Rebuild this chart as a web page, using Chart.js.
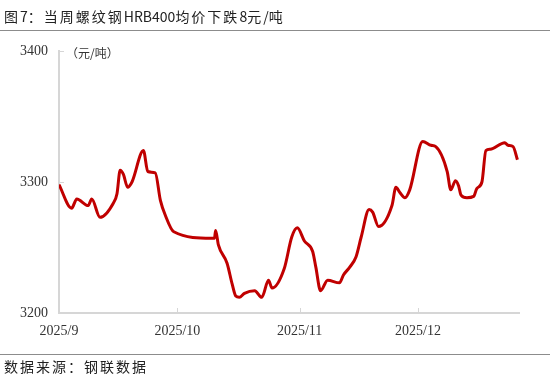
<!DOCTYPE html>
<html><head><meta charset="utf-8">
<script src="https://cdn.jsdelivr.net/npm/chart.js@4.4.1/dist/chart.umd.min.js"></script>
<style>
html,body{margin:0;padding:0;background:#fff;}
body{width:550px;height:381px;position:relative;overflow:hidden;font-family:"Noto Sans CJK SC",sans-serif;}
#title{position:absolute;left:4px;top:6px;font-size:14px;letter-spacing:2px;color:#222;line-height:20px;white-space:nowrap;}
#title span{letter-spacing:0;}
#topline{position:absolute;left:0;top:30px;width:550px;height:1px;background:#8c8c8c;}
#botline{position:absolute;left:0;top:354px;width:550px;height:1px;background:#8c8c8c;}
#source{position:absolute;left:4px;top:356px;font-size:14px;letter-spacing:2px;color:#222;line-height:20px;white-space:nowrap;}
#wrap{position:absolute;left:0;top:0;width:550px;height:381px;}
</style></head>
<body>
<div id="wrap"><canvas id="c" width="550" height="381"></canvas></div>
<div id="title">图<span>7</span>：当周螺纹钢<span>HRB400</span>均价下跌<span>8</span>元<span>/</span>吨</div>
<div id="topline"></div>
<div id="botline"></div>
<div id="source">数据来源：钢联数据</div>
<script>
// days since 2025-09-01
const days = [0,3.2,4.5,7.4,8.3,10.4,13.8,14.7,15.5,16.3,17.4,18.5,21.4,22.5,24.4,25.7,26.9,29.1,38.7,39.4,39.7,40.4,42.6,43.9,44.8,45.7,47.0,49.6,51.4,53.1,54.0,57.1,59.0,60.4,62.2,64.3,65.1,66.3,68.1,71.1,72.1,73.7,75.3,76.6,78.6,79.5,81.0,84.4,85.4,86.4,87.7,88.9,92.2,94.3,95.5,98.4,99.3,100.5,101.3,101.9,103.4,105.1,105.9,107.2,108.2,109.3,113.0,113.8,115.1,116.2];
const prices = [3298,3280,3287,3282,3287,3273,3284,3291,3309,3306,3296,3300,3324,3308,3307,3286,3275,3262,3257,3257,3263,3252,3238,3222,3213,3212,3215,3217,3212,3225,3219,3234,3258,3265,3255,3247,3235,3217,3225,3223,3229,3235,3243,3258,3279,3277,3266,3282,3296,3292,3288,3294,3331,3328,3327,3308,3294,3301,3297,3290,3288,3289,3295,3300,3324,3325,3330,3328,3327,3317];
const tickDays = [0,30,61,91];
const tickLabels = ['2025/9','2025/10','2025/11','2025/12'];
const yTicks = [3200,3300,3400];
const unitLabel = '（元/吨）';

const axisColor = '#d6d6d6';
const tickFont = {family:'"Liberation Serif", serif', size:14};

const innerTicks = {
  id:'innerTicks',
  afterDraw(chart){
    const {ctx, chartArea:a, scales:{x,y}} = chart;
    ctx.save();
    ctx.strokeStyle = axisColor; ctx.lineWidth = 1;
    tickDays.forEach(v=>{ if(v===0) return; const px = Math.round(x.getPixelForValue(v))+0.5;
      ctx.beginPath(); ctx.moveTo(px,a.bottom); ctx.lineTo(px,a.bottom-5); ctx.stroke(); });
    yTicks.forEach(v=>{ if(v===3200) return; const py = Math.round(y.getPixelForValue(v))+0.5;
      ctx.beginPath(); ctx.moveTo(a.left,py); ctx.lineTo(a.left+5,py); ctx.stroke(); });
    ctx.fillStyle = '#333';
    ctx.font = '12px "Noto Sans CJK SC", sans-serif';
    ctx.textBaseline = 'middle'; ctx.textAlign = 'left';
    ctx.fillText(unitLabel, a.left+7, a.top+2);
    ctx.restore();
  }
};

new Chart(document.getElementById('c'), {
  type:'line',
  data:{datasets:[{
    data: days.map((d,i)=>({x:d,y:prices[i]})),
    borderColor:'#C00000', borderWidth:3, pointRadius:0,
    cubicInterpolationMode:'monotone', fill:false
  }]},
  options:{
    responsive:false, animation:false, maintainAspectRatio:false,
    layout:{padding:{left:0,top:51,right:31,bottom:0}},
    plugins:{legend:{display:false},tooltip:{enabled:false}},
    scales:{
      x:{type:'linear',min:0,max:116.6,
        afterBuildTicks:(s)=>{s.ticks=tickDays.map(v=>({value:v}));},
        ticks:{callback:(v)=>{const i=tickDays.indexOf(v);return i>=0?tickLabels[i]:'';},
          font:tickFont,color:'#333',padding:10,maxRotation:0,autoSkip:false},
        grid:{display:true,drawOnChartArea:false,drawTicks:false},
        border:{display:true,color:axisColor,width:2},
        afterFit:(s)=>{s.height=68;}
      },
      y:{min:3200,max:3400,
        afterBuildTicks:(s)=>{s.ticks=yTicks.map(v=>({value:v}));},
        ticks:{callback:(v)=>String(v),font:tickFont,color:'#333',padding:11},
        grid:{display:true,drawOnChartArea:false,drawTicks:false},
        border:{display:true,color:axisColor,width:2},
        afterFit:(s)=>{s.width=59;}
      }
    }
  },
  plugins:[innerTicks]
});
</script>
</body></html>
